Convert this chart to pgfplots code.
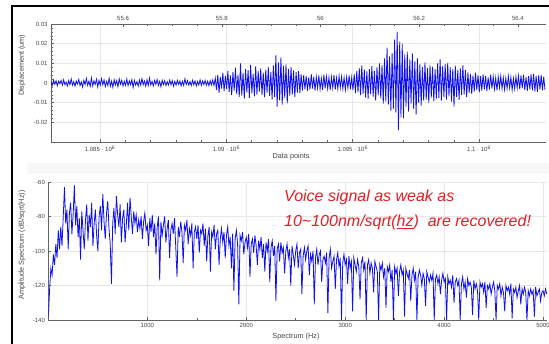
\documentclass[border=0pt]{standalone}
\usepackage{fontspec}
\setmainfont{Liberation Sans}
\usepackage{pgfplots}
\pgfplotsset{compat=1.18}
\definecolor{axgray}{RGB}{100,100,100}
\definecolor{txgray}{RGB}{70,70,70}
\definecolor{gridgray}{RGB}{232,232,232}
\definecolor{sigblue}{RGB}{15,15,245}
\definecolor{txtred}{RGB}{232,28,36}
\pgfplotsset{
  common/.style={
    scale only axis,
    /pgf/number format/assume math mode=true,
    /pgf/number format/1000 sep={},
    tick label style={font=\fontsize{6}{7}\selectfont, text=txgray},
    label style={font=\fontsize{7.3}{8}\selectfont, text=txgray},
    axis line style={axgray, line width=0.6pt},
    tick style={axgray, line width=0.5pt},
    major tick length=3pt, minor tick length=1.6pt,
    grid style={gridgray, line width=0.5pt},
  }
}
\begin{document}
\begin{tikzpicture}[x=1pt,y=1pt]
\path[use as bounding box] (0pt,0pt) rectangle (549pt,344pt);
\fill[gray!6] (27pt,170pt) rectangle (549pt,181pt);
\draw[line width=2pt] (12pt,0pt) -- (12pt,338pt) -- (549pt,338pt);

% ---------- top panel ----------
\begin{axis}[common,
  at={(51pt,202pt)}, anchor=south west, width=495pt, height=118pt,
  xmin=1083.06, xmax=1102.65, ymin=-30, ymax=30,
  axis y line*=left,
  xtick pos=bottom,
  xtick={1085,1090,1095,1100},
  xticklabels={1.085 · 10\textsuperscript{6},1.09 · 10\textsuperscript{6},1.095 · 10\textsuperscript{6},1.1 · 10\textsuperscript{6}},
  minor x tick num=4,
  ytick={-20,-10,0,10,20,30},
  yticklabels={-0.02,-0.01,0,0.01,0.02,0.03},
  minor y tick num=4,
  xmajorgrids, ymajorgrids,
  ylabel={Displacement (um)},
  ylabel style={at={(axis description cs:-0.0586,0.65)}, anchor=center},
  xlabel={Data points},
  xlabel style={at={(axis description cs:0.485,-0.127)}, anchor=center},
]
\addplot[sigblue, line width=0.8pt] table[row sep=\\, header=false, x expr=1083.06+\coordindex*0.05, y index=0] {
0.8\\-1.2\\1.5\\-0.6\\1.1\\-1.4\\0.9\\-0.3\\1.3\\-1.0\\
1.6\\-0.8\\0.5\\-1.5\\1.2\\-0.9\\2.0\\-1.1\\0.7\\-1.6\\
1.0\\-0.5\\1.8\\-1.3\\0.6\\-2.1\\1.4\\-0.8\\2.3\\-1.2\\
0.9\\-1.7\\2.6\\-1.5\\1.1\\-0.7\\1.9\\-2.0\\1.3\\-1.1\\
2.2\\-0.9\\1.5\\-1.8\\0.8\\-1.3\\2.4\\-1.6\\1.0\\-2.2\\
1.7\\-1.0\\1.2\\-1.9\\2.1\\-0.6\\1.4\\-1.5\\0.9\\-1.2\\
2.0\\-1.4\\1.1\\-0.8\\1.7\\-2.3\\1.3\\-1.0\\0.7\\-1.6\\
1.5\\-1.1\\2.2\\-0.9\\1.0\\-1.7\\1.6\\-1.3\\2.5\\-1.0\\
0.8\\-1.5\\1.3\\-0.7\\1.8\\-1.2\\0.9\\-1.9\\1.4\\-0.8\\
1.1\\-1.3\\0.7\\-1.0\\1.5\\-0.9\\1.2\\-1.6\\0.8\\-1.1\\
1.3\\-0.7\\1.0\\-1.4\\0.9\\-1.2\\2.1\\-0.8\\1.2\\-1.0\\
0.7\\-1.3\\1.4\\-0.9\\1.1\\-1.5\\0.8\\-1.0\\1.6\\-1.2\\
1.0\\-0.8\\1.3\\-1.1\\0.9\\-1.4\\1.2\\-1.0\\1.5\\-1.3\\
2.5\\-3.5\\4.2\\-5.0\\3.1\\-2.8\\5.2\\-4.1\\3.6\\-3.0\\
6.0\\-4.5\\3.8\\-6.2\\5.5\\-3.9\\7.8\\-5.6\\4.2\\-7.0\\
10.0\\-6.4\\5.1\\-8.0\\7.2\\-4.8\\6.5\\-7.5\\9.2\\-5.3\\
4.6\\-6.8\\8.5\\-5.9\\6.0\\-4.4\\7.4\\-6.1\\5.3\\-7.2\\
6.8\\-5.0\\8.0\\-6.6\\5.6\\-8.4\\9.0\\-7.0\\14.0\\-12.0\\
10.5\\-9.0\\13.0\\-11.0\\8.8\\-7.6\\9.5\\-10.4\\7.2\\-6.5\\
8.1\\-5.8\\6.4\\-7.1\\5.5\\-4.9\\6.0\\-5.2\\4.4\\-3.8\\
4.0\\-3.2\\3.6\\-4.1\\2.9\\-3.4\\4.5\\-2.8\\3.2\\-3.9\\
3.0\\-2.6\\3.8\\-3.1\\2.4\\-3.5\\4.2\\-2.7\\3.3\\-2.9\\
2.8\\-3.6\\3.1\\-2.5\\4.0\\-3.3\\2.6\\-3.0\\3.5\\-2.4\\
3.2\\-2.9\\2.7\\-3.4\\3.0\\-2.6\\3.9\\-3.2\\2.8\\-3.6\\
4.5\\-5.2\\6.0\\-4.8\\7.5\\-6.2\\9.0\\-5.5\\6.8\\-7.4\\
5.9\\-8.0\\7.1\\-5.6\\8.6\\-6.9\\6.2\\-9.0\\8.0\\-6.3\\
10.0\\-7.8\\9.2\\-10.5\\12.5\\-9.4\\18.0\\-11.0\\13.5\\-14.0\\
15.0\\-13.0\\22.0\\-15.0\\26.0\\-24.0\\21.0\\-17.5\\20.0\\-18.0\\
14.5\\-12.0\\16.0\\-14.5\\12.0\\-10.5\\15.0\\-13.0\\11.0\\-16.0\\
12.5\\-10.0\\9.5\\-11.5\\8.0\\-9.0\\10.5\\-8.5\\7.6\\-10.0\\
9.0\\-7.4\\8.2\\-9.4\\7.0\\-8.0\\10.0\\-7.5\\12.0\\-9.0\\
8.5\\-7.2\\9.6\\-8.4\\10.2\\-6.8\\8.0\\-9.5\\7.2\\-12.0\\
8.8\\-7.0\\6.5\\-8.6\\7.4\\-6.0\\9.0\\-5.8\\6.6\\-7.2\\
5.4\\-5.0\\4.6\\-5.5\\3.8\\-4.4\\5.2\\-3.6\\4.0\\-4.8\\
3.5\\-3.9\\4.4\\-3.2\\3.6\\-4.1\\2.9\\-3.4\\4.2\\-2.8\\
3.3\\-3.0\\2.6\\-3.7\\3.1\\-2.4\\3.5\\-2.9\\2.7\\-3.3\\
2.5\\-2.8\\3.4\\-2.6\\3.0\\-3.5\\2.4\\-2.9\\3.2\\-2.5\\
3.6\\-3.1\\3.8\\-2.7\\4.2\\-3.6\\3.0\\-4.0\\3.5\\-3.2\\
4.4\\-3.8\\4.6\\-4.2\\3.6\\-4.5\\3.9\\-3.3\\4.1\\-3.7\\
3.2\\-3.5\\
};
\end{axis}

% time axis on top
\begin{axis}[common,
  at={(51pt,202pt)}, anchor=south west, width=495pt, height=118pt,
  xmin=55.454, xmax=56.457, ymin=0, ymax=1,
  axis x line*=top, axis y line=none,
  xtick={55.6,55.8,56,56.2,56.4},
  xticklabels={55.6,55.8,56,56.2,56.4},
  minor x tick num=3,
]
\end{axis}

% ---------- bottom panel ----------
\begin{axis}[common,
  at={(48.4pt,24pt)}, anchor=south west, width=498.6pt, height=138pt,
  xmin=0, xmax=5040, ymin=-140, ymax=-60,
  axis x line*=bottom, axis y line*=left,
  axis line style={-},
  xtick={1000,2000,3000,4000,5000},
  minor x tick num=1,
  ytick={-140,-120,-100,-80,-60},
  xmajorgrids, ymajorgrids,
  ylabel={Amplitude Spectrum (dB/sqrt(Hz))},
  ylabel style={at={(axis description cs:-0.053,0.543)}, anchor=center},
  xlabel={Spectrum (Hz)},
  xlabel style={at={(axis description cs:0.4966,-0.123)}, anchor=center},
]
\addplot[sigblue, line width=0.8pt] table[row sep=\\, header=false, x expr=\coordindex*12.5, y index=0] {
-138\\-122\\-110\\-114\\-102\\-108\\-96\\-104\\-88\\-99\\
-86\\-97\\-80\\-63\\-84\\-76\\-99\\-78\\-72\\-90\\
-79\\-62\\-85\\-74\\-92\\-81\\-105\\-77\\-88\\-99\\
-82\\-73\\-94\\-79\\-86\\-72\\-97\\-84\\-76\\-91\\
-100\\-80\\-74\\-88\\-67\\-83\\-93\\-78\\-71\\-87\\
-96\\-119\\-84\\-75\\-90\\-68\\-79\\-86\\-73\\-95\\
-81\\-76\\-95\\-85\\-72\\-88\\-69\\-80\\-90\\-77\\
-84\\-79\\-89\\-82\\-87\\-80\\-93\\-83\\-78\\-88\\
-85\\-97\\-81\\-89\\-79\\-92\\-84\\-102\\-86\\-80\\
-117\\-83\\-91\\-85\\-80\\-95\\-87\\-82\\-104\\-88\\
-84\\-90\\-81\\-98\\-115\\-86\\-92\\-83\\-89\\-107\\
-85\\-88\\-82\\-96\\-87\\-91\\-84\\-110\\-89\\-86\\
-93\\-85\\-101\\-88\\-90\\-84\\-97\\-87\\-106\\-91\\
-86\\-112\\-89\\-92\\-85\\-99\\-90\\-88\\-108\\-93\\
-87\\-95\\-89\\-104\\-91\\-86\\-97\\-92\\-110\\-90\\
-123\\-93\\-88\\-96\\-131\\-91\\-94\\-89\\-102\\-95\\
-92\\-98\\-90\\-115\\-96\\-93\\-101\\-91\\-97\\-108\\
-94\\-99\\-92\\-104\\-96\\-112\\-95\\-100\\-93\\-118\\
-98\\-94\\-103\\-97\\-129\\-99\\-96\\-106\\-95\\-101\\
-98\\-113\\-100\\-96\\-104\\-99\\-120\\-97\\-102\\-108\\
-100\\-96\\-110\\-101\\-99\\-125\\-103\\-98\\-105\\-100\\
-97\\-114\\-102\\-106\\-100\\-131\\-104\\-99\\-108\\-102\\
-100\\-118\\-105\\-103\\-107\\-101\\-136\\-104\\-99\\-110\\
-106\\-103\\-122\\-105\\-101\\-109\\-104\\-140\\-107\\-102\\
-108\\-105\\-119\\-103\\-110\\-106\\-135\\-104\\-108\\-112\\
-105\\-109\\-128\\-107\\-104\\-111\\-106\\-140\\-108\\-105\\
-113\\-107\\-110\\-124\\-106\\-109\\-112\\-140\\-108\\-111\\
-107\\-115\\-110\\-133\\-109\\-112\\-108\\-118\\-111\\-140\\
-109\\-113\\-110\\-126\\-112\\-108\\-114\\-111\\-138\\-110\\
-113\\-116\\-111\\-129\\-114\\-110\\-117\\-112\\-140\\-115\\
-111\\-114\\-120\\-113\\-116\\-132\\-112\\-115\\-118\\-114\\
-117\\-113\\-140\\-116\\-114\\-119\\-115\\-125\\-117\\-113\\
-118\\-116\\-140\\-115\\-119\\-117\\-121\\-114\\-130\\-118\\
-116\\-120\\-117\\-140\\-119\\-115\\-122\\-118\\-127\\-116\\
-120\\-118\\-121\\-137\\-117\\-122\\-119\\-123\\-140\\-118\\
-121\\-119\\-124\\-118\\-133\\-120\\-122\\-119\\-125\\-121\\
-118\\-123\\-140\\-120\\-122\\-119\\-126\\-121\\-124\\-135\\
-120\\-123\\-121\\-125\\-119\\-139\\-122\\-124\\-121\\-127\\
-123\\-120\\-131\\-122\\-125\\-121\\-124\\-140\\-123\\-126\\
-122\\-125\\-123\\-138\\-121\\-126\\-124\\-122\\-129\\-124\\
-123\\-126\\-122\\-125\\
};
\end{axis}

\node[anchor=base west, text=txtred, font=\fontsize{16}{18}\selectfont\itshape, inner sep=0pt] at (284pt,142pt) {Voice signal as weak as};
\node[anchor=base west, text=txtred, font=\fontsize{16}{18}\selectfont\itshape, inner sep=0pt] at (284pt,117pt) {10\textasciitilde100nm/sqrt(\underline{hz})\ \ are recovered!};
\end{tikzpicture}
\end{document}
